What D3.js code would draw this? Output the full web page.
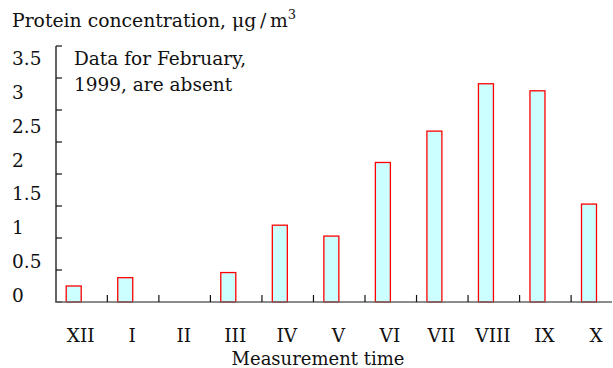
<!DOCTYPE html>
<html>
<head>
    <title></title>
    <style>
        body {
            margin: 0;
            background: #fff;
        }
        text {
            font-family: "DejaVu Serif", serif;
            fill: #111;
        }
        .bar {
            fill: #ccffff;
            stroke: #f00;
            stroke-width: 1.3px;
        }
        .axis-line {
            stroke: #111;
            stroke-width: 1.3px;
        }
        .base-line {
            stroke: #666;
            stroke-width: 1.5px;
        }
        .tick {
            stroke: #111;
            stroke-width: 1.2px;
        }
    </style>
</head>
<body>
<script src="https://d3js.org/d3.v7.min.js"></script>
<script>
    var width = 613;
    var height = 368;

    var months = ["XII", "I", "II", "III", "IV", "V", "VI", "VII", "VIII", "IX", "X"];
    var protein = [0.25, 0.38, null, 0.46, 1.20, 1.03, 2.18, 2.67, 3.41, 3.30, 1.53];
    var yTicks = [0, 0.5, 1, 1.5, 2, 2.5, 3, 3.5, 4];
    var yLabels = [0, 0.5, 1, 1.5, 2, 2.5, 3, 3.5];

    var svg = d3.select("body").append("svg")
            .attr("width", width)
            .attr("height", height);

    var x = d3.scalePoint().domain(months).range([73.7, 589]);
    var y = d3.scaleLinear().domain([0, 4]).range([302, 46]);
    // the labels in the picture sit on their own spacing, a bit looser than the ticks
    var yl = d3.scaleLinear().domain([0, 3.5]).range([302, 65]);
    var barW = 15;

    // bars
    svg.selectAll("rect.bar")
        .data(months.map(function(m, i) {return {m: m, v: protein[i]};}).filter(function(d) {return d.v != null;}))
        .enter().append("rect")
        .attr("class", "bar")
        .attr("x", function(d) {return x(d.m) - barW / 2;})
        .attr("y", function(d) {return y(d.v);})
        .attr("width", barW)
        .attr("height", function(d) {return y(0) - y(d.v);});

    // y axis
    svg.append("line").attr("class", "axis-line")
        .attr("x1", 56).attr("x2", 56).attr("y1", y(4)).attr("y2", y(0));
    svg.selectAll("line.ytick").data(yTicks).enter().append("line")
        .attr("class", "tick")
        .attr("x1", 56).attr("x2", 62)
        .attr("y1", function(d) {return y(d);})
        .attr("y2", function(d) {return y(d);});
    svg.selectAll("text.ylab").data(yLabels).enter().append("text")
        .attr("class", "ylab")
        .attr("x", 12)
        .attr("y", function(d) {return yl(d);})
        .style("font-size", "18.5px")
        .text(function(d) {return d;});

    // x axis
    svg.append("line").attr("class", "base-line")
        .attr("x1", 55).attr("x2", 612).attr("y1", y(0)).attr("y2", y(0));
    var step = x.step();
    svg.selectAll("line.xtick").data(months.slice(0, months.length - 1)).enter().append("line")
        .attr("class", "tick")
        .attr("x1", function(d) {return x(d) + step * 0.653;})
        .attr("x2", function(d) {return x(d) + step * 0.653;})
        .attr("y1", y(0)).attr("y2", y(0) - 7);
    svg.selectAll("text.xlab").data(months).enter().append("text")
        .attr("class", "xlab")
        .attr("x", function(d) {return x(d) + 7;})
        .attr("y", 342)
        .attr("text-anchor", "middle")
        .style("font-size", "18.5px")
        .text(function(d) {return d;});

    svg.append("text")
        .attr("x", 318).attr("y", 365)
        .attr("text-anchor", "middle")
        .style("font-size", "18px")
        .text("Measurement time");

    // title
    var t = svg.append("text").attr("x", 12).attr("y", 27).style("font-size", "18.8px");
    t.append("tspan").text("Protein concentration, \u03bcg\u2009/\u2009m");
    t.append("tspan").attr("dy", -8).style("font-size", "13px").text("3");

    // note
    svg.append("text").attr("x", 74).attr("y", 65).style("font-size", "18.5px").text("Data for February,");
    svg.append("text").attr("x", 74).attr("y", 91).style("font-size", "18.5px").text("1999, are absent");
</script>
</body>
</html>
